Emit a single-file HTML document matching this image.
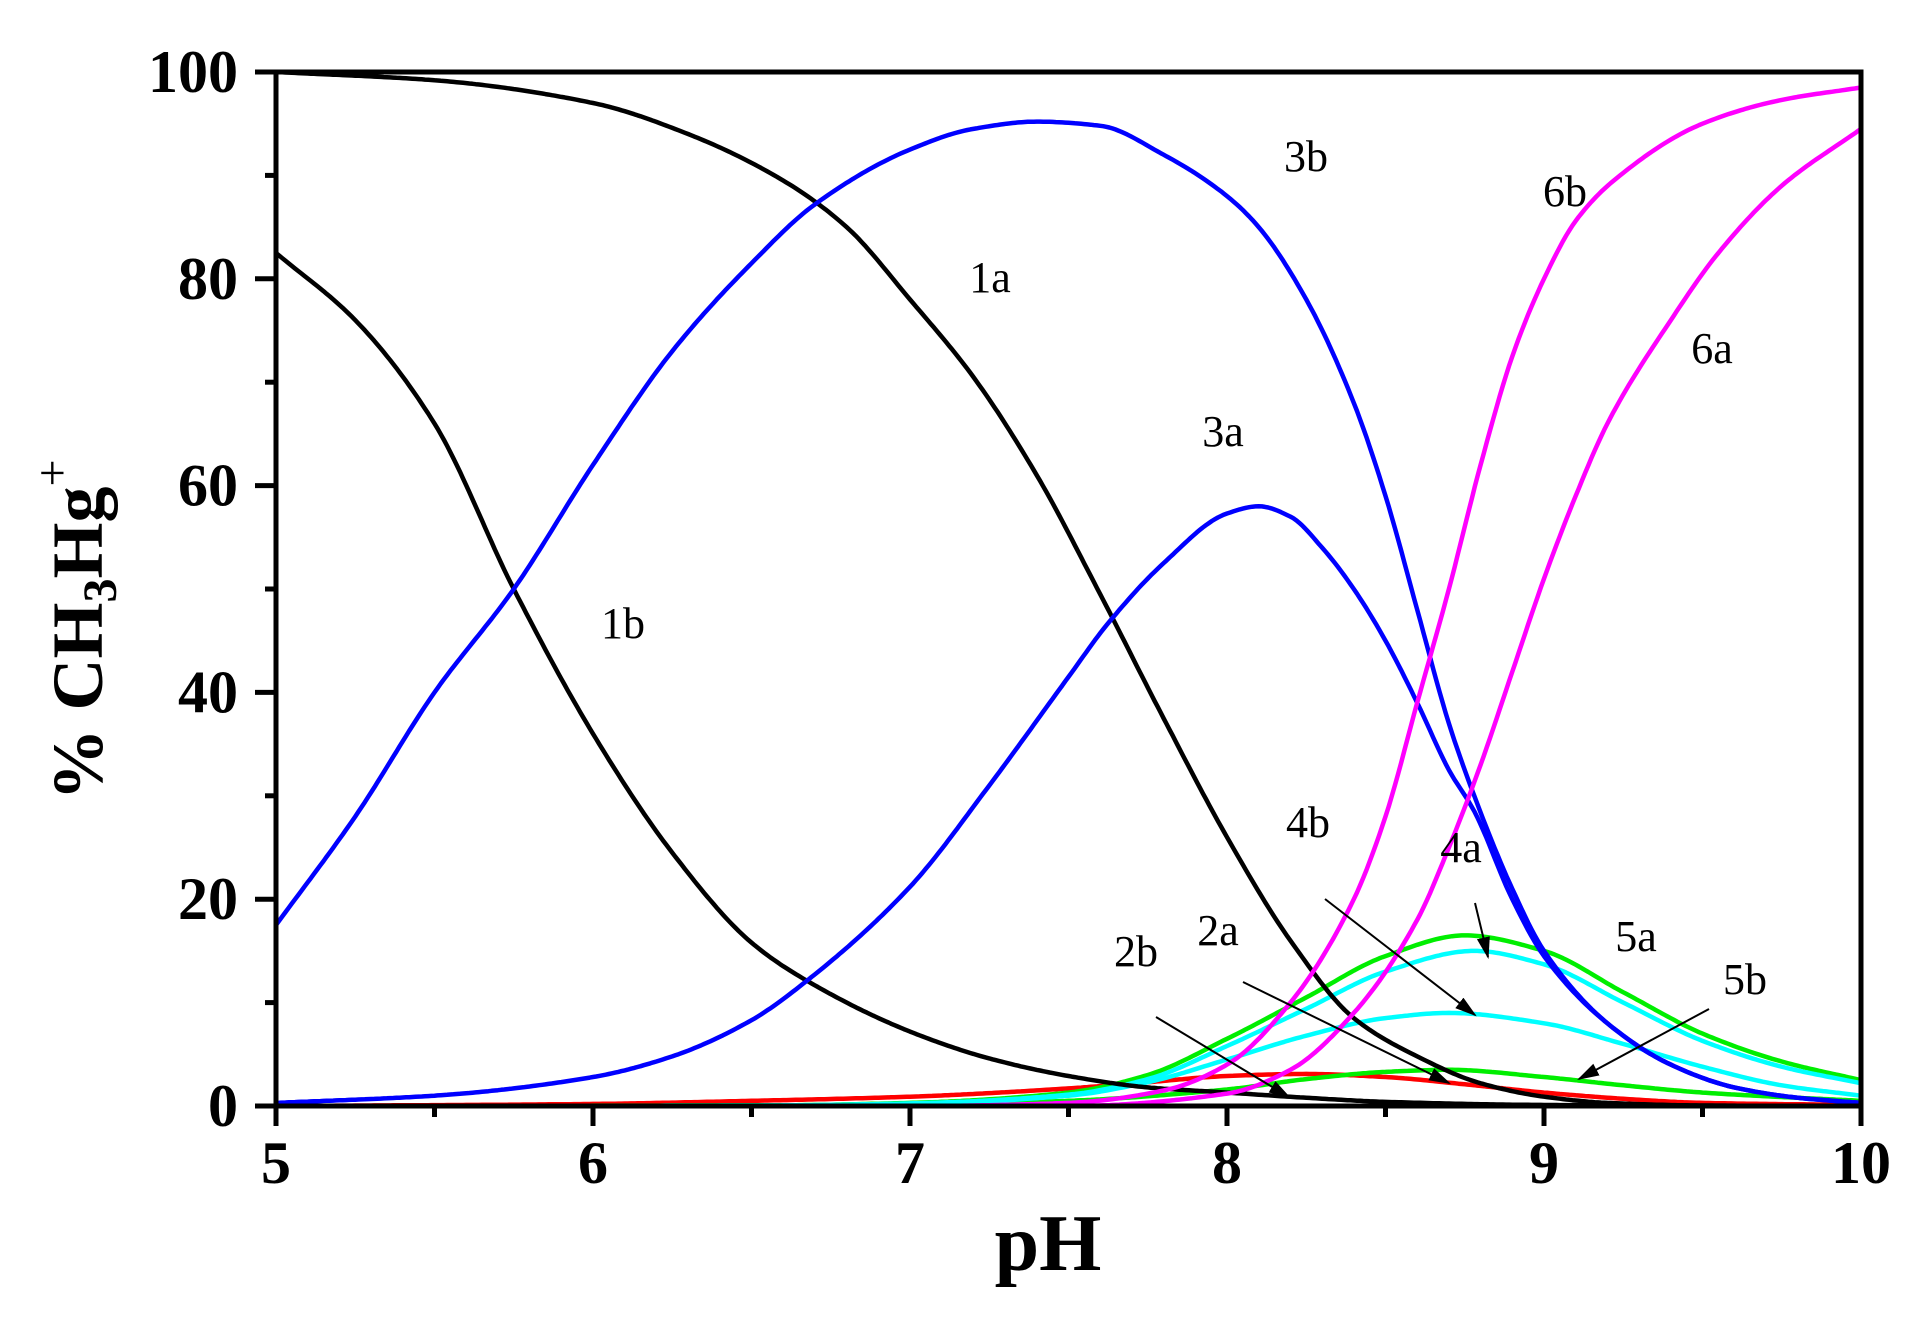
<!DOCTYPE html>
<html><head><meta charset="utf-8"><style>
html,body{margin:0;padding:0;background:#fff;}
svg{display:block;}
.t{font-family:"Liberation Serif",serif;font-weight:bold;font-size:60px;fill:#000;}
.l{font-family:"Liberation Serif",serif;font-size:44px;fill:#000;}
</style></head><body>
<svg id="s" width="1926" height="1326" viewBox="0 0 1926 1326" xmlns="http://www.w3.org/2000/svg">
<defs><marker id="ah2" viewBox="0 0 10 10" refX="9" refY="5" markerWidth="22" markerHeight="22" markerUnits="userSpaceOnUse" orient="auto"><path d="M0,2 L10,5 L0,8 z" fill="#000"/></marker></defs>
<g id="curves" fill="none" stroke-width="4.5" stroke-linejoin="round"></g>
<g stroke="#000" stroke-width="2">
<line x1="1325" y1="899" x2="1475" y2="1015" marker-end="url(#ah2)"/>
<line x1="1475" y1="903" x2="1488" y2="957" marker-end="url(#ah2)"/>
<line x1="1243" y1="982" x2="1449" y2="1083" marker-end="url(#ah2)"/>
<line x1="1156" y1="1017" x2="1289" y2="1097" marker-end="url(#ah2)"/>
<line x1="1709" y1="1009" x2="1579" y2="1079" marker-end="url(#ah2)"/>
</g>
<g id="axes" stroke="#000" stroke-width="5" fill="none">
<rect x="276" y="72" width="1585" height="1034"/>
</g>
<g id="ticks" stroke="#000" stroke-width="5"></g>
<g id="labels"></g>
<g class="l" text-anchor="middle" dominant-baseline="middle">
<text x="1306" y="161">3b</text><text x="990" y="282">1a</text><text x="1565" y="196">6b</text>
<text x="1712" y="353">6a</text><text x="1223" y="436">3a</text><text x="623" y="628">1b</text>
<text x="1308" y="827">4b</text><text x="1461" y="852">4a</text><text x="1636" y="941">5a</text>
<text x="1745" y="984">5b</text><text x="1218" y="935">2a</text><text x="1136" y="956">2b</text>
</g>
<text x="1048" y="1270" text-anchor="middle" style="font-family:'Liberation Serif',serif;font-weight:bold;font-size:80px">pH</text>
<text transform="translate(102,630) rotate(-90)" text-anchor="middle" style="font-family:'Liberation Serif',serif;font-weight:bold;font-size:72px">% CH<tspan font-size="48" dy="14">3</tspan><tspan dy="-14">Hg</tspan><tspan font-size="48" dy="-34" font-weight="normal">+</tspan></text>
</svg>
<script>
var X0=276,XS=317,Y0=1106,YS=10.34;
function mono(pts){var n=pts.length,xs=pts.map(p=>p[0]),ys=pts.map(p=>p[1]),d=[],m=[];
for(var i=0;i<n-1;i++)d.push((ys[i+1]-ys[i])/(xs[i+1]-xs[i]));
m[0]=d[0];m[n-1]=d[n-2];
for(var i=1;i<n-1;i++){if(d[i-1]*d[i]<=0)m[i]=0;else{var h0=xs[i]-xs[i-1],h1=xs[i+1]-xs[i];var w1=2*h1+h0,w2=h1+2*h0;m[i]=(w1+w2)/(w1/d[i-1]+w2/d[i]);}}
var out=[];
for(var i=0;i<n-1;i++){var h=xs[i+1]-xs[i];var N=Math.max(2,Math.ceil(h/0.01));
for(var k=0;k<N;k++){var t=k/N,t2=t*t,t3=t2*t;
var y=(2*t3-3*t2+1)*ys[i]+(t3-2*t2+t)*h*m[i]+(-2*t3+3*t2)*ys[i+1]+(t3-t2)*h*m[i+1];
out.push([xs[i]+t*h,y]);}}
out.push(pts[n-1]);
return "M"+out.map(p=>(X0+(p[0]-5)*XS).toFixed(1)+","+(Y0-p[1]*YS).toFixed(1)).join(" L");}
var C={
red0:["#ff0000",[[5,0],[10,0]]],
red:["#ff0000",[[5,0],[6,0.2],[6.5,0.5],[7,0.9],[7.5,1.7],[7.75,2.3],[8,2.9],[8.25,3.1],[8.5,2.8],[8.75,2.1],[9,1.3],[9.25,0.7],[9.5,0.3],[10,0.1]]],
g2:["#00ee00",[[5,0],[7,0.1],[7.5,0.5],[8,1.6],[8.25,2.6],[8.5,3.3],[8.7,3.5],[9,2.8],[9.25,2],[9.5,1.3],[10,0.5]]],
c2:["#00ffff",[[5,0],[6.5,0.05],[7,0.2],[7.5,1],[7.75,2.3],[8,4.5],[8.25,6.8],[8.5,8.5],[8.7,9],[9,8],[9.25,6],[9.5,3.8],[9.75,2],[10,1]]],
g1:["#00ee00",[[5,0],[6.5,0.05],[7,0.3],[7.5,1.3],[7.75,3],[8,6.5],[8.25,10.5],[8.5,14.5],[8.75,16.5],[9,15],[9.25,11],[9.5,7],[9.75,4.3],[10,2.5]]],
c1:["#00ffff",[[5,0],[6.5,0.05],[7,0.25],[7.5,1.1],[7.75,2.6],[8,5.8],[8.25,9.4],[8.5,13],[8.78,15],[9,13.7],[9.25,10],[9.5,6.3],[9.75,3.8],[10,2.2]]],
b1:["#000000",[[5,82.5],[5.25,76],[5.5,66],[5.75,50],[6,36],[6.25,24.5],[6.5,15.8],[6.67,12.2],[7,7.2],[7.25,4.6],[7.5,2.9],[7.75,1.8],[8,1.3],[8.25,0.8],[8.5,0.4],[9,0.1],[10,0]]],
a1:["#000000",[[5,100],[5.5,99.2],[6,97],[6.3,94],[6.6,89.5],[6.8,85],[7,78],[7.2,70.5],[7.4,61],[7.6,49.5],[7.8,37.5],[8,26],[8.2,16],[8.4,8.5],[8.6,4.8],[8.8,2.2],[9,0.9],[9.2,0.3],[9.5,0.05],[10,0]]],
a3:["#0000ff",[[5,0.3],[5.5,1],[6,2.8],[6.25,4.8],[6.5,8.3],[6.67,12],[7,21.2],[7.25,31],[7.5,41.5],[7.62,46.5],[7.8,52.5],[8,57.3],[8.1,58],[8.2,57],[8.3,54],[8.4,50],[8.5,45],[8.6,39],[8.7,32.5],[8.78,28.5],[8.9,20],[9,14.5],[9.2,8],[9.4,4],[9.6,1.8],[9.8,0.8],[10,0.3]]],
b3:["#0000ff",[[5,17.5],[5.25,28],[5.5,40],[5.75,50],[6,62],[6.25,73],[6.5,81.5],[6.7,87.2],[7,92.5],[7.2,94.5],[7.4,95.2],[7.6,94.8],[7.8,92],[8,88],[8.1,85],[8.25,78],[8.4,68],[8.5,59],[8.6,48],[8.7,37],[8.78,30],[8.9,21],[9,15],[9.2,8],[9.4,4],[9.6,1.8],[9.8,0.8],[10,0.3]]],
a6:["#ff00ff",[[5,0],[7.5,0],[8,1.2],[8.2,3.5],[8.4,9],[8.6,18],[8.7,25],[8.8,33],[8.9,42],[9,51],[9.1,59],[9.2,66],[9.4,76],[9.55,82.5],[9.75,89],[10,94.5]]],
b6:["#ff00ff",[[5,0],[7,0],[7.5,0.3],[7.8,1.5],[8,4],[8.2,10],[8.4,20],[8.5,28],[8.6,39],[8.7,50],[8.8,62],[8.9,72.5],[9,80],[9.1,85.6],[9.22,89.5],[9.5,95],[9.75,97.3],[10,98.5]]]
};
var g=document.getElementById("curves"),h="";
for(var k in C){h+='<path stroke="'+C[k][0]+'" d="'+mono(C[k][1])+'"/>';}
g.innerHTML=h;
var t="",lb="";
for(var v=0;v<=100;v+=10){var y=Y0-v*YS;var L=(v%20==0)?21:11;t+='<line x1="'+(X0-L)+'" y1="'+y+'" x2="'+X0+'" y2="'+y+'"/>';
if(v%20==0)lb+='<text class="t" x="238" y="'+(y+20)+'" text-anchor="end">'+v+'</text>';}
for(var p=5;p<=10.001;p+=0.5){var x=X0+(p-5)*XS;var L=(Math.abs(p-Math.round(p))<0.01)?20:11;t+='<line x1="'+x+'" y1="'+Y0+'" x2="'+x+'" y2="'+(Y0+L)+'"/>';
if(L==20)lb+='<text class="t" x="'+x+'" y="1183" text-anchor="middle">'+Math.round(p)+'</text>';}
document.getElementById("ticks").innerHTML=t;document.getElementById("labels").innerHTML=lb;
</script>
</body></html>
